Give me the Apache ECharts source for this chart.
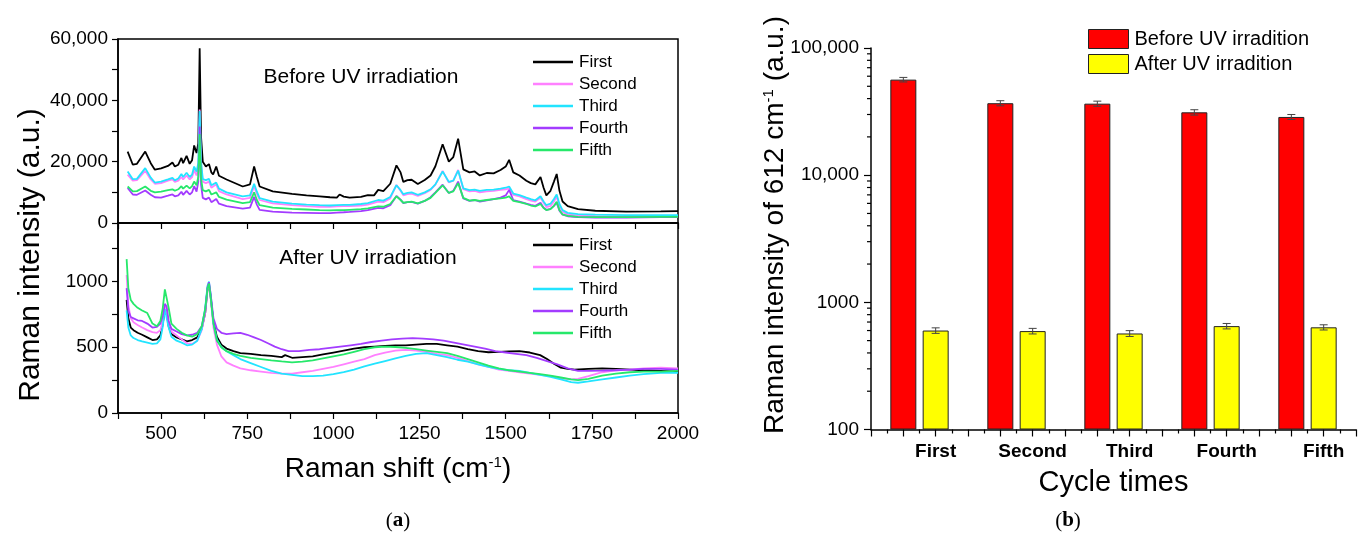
<!DOCTYPE html>
<html>
<head>
<meta charset="utf-8">
<script src="https://cdn.jsdelivr.net/npm/echarts@6/dist/echarts.min.js"></script>
<style>
  html, body { margin: 0; padding: 0; background: #fff; }
  #chart { width: 1359px; height: 540px; }
</style>
</head>
<body>
<div id="chart"></div>
<script>
// ---- (a) Raman spectra, [Raman shift (cm-1), intensity (a.u.)] ----
const spectrumNames = ['First', 'Second', 'Third', 'Fourth', 'Fifth'];

const beforeFirst = [[403,23300],[418,19000],[430,19300],[454,23300],[470,19500],[482,17400],[500,17800],[520,18600],[533,19700],[540,18400],[550,19000],[559,21200],[564,19500],[574,21900],[583,19300],[590,20500],[596,25300],[603,22800],[608,26000],[612,57000],[616,28000],[621,20000],[630,18400],[639,19200],[646,16500],[651,15800],[660,18400],[668,15400],[690,14200],[737,11900],[758,12600],[770,18400],[778,15000],[786,11900],[824,10300],[880,9500],[922,9000],[960,8700],[990,8400],[1010,8300],[1018,9300],[1030,8600],[1047,8300],[1080,8500],[1100,9100],[1118,9000],[1130,10800],[1145,10400],[1165,12800],[1183,18800],[1195,16500],[1203,13400],[1215,14000],[1227,14100],[1245,12700],[1265,14000],[1282,15500],[1296,18500],[1317,25700],[1335,20000],[1348,21500],[1362,27500],[1377,17500],[1395,16500],[1410,16800],[1425,15500],[1445,16300],[1465,16200],[1485,17300],[1500,18400],[1510,20600],[1522,16500],[1540,15500],[1560,13800],[1573,13000],[1586,12600],[1601,15000],[1610,11500],[1618,9000],[1630,10500],[1640,13500],[1648,16000],[1656,10500],[1665,7000],[1680,5500],[1710,4500],[1760,4000],[1850,3700],[1950,3800],[2000,3900]];
const beforeSecond = [[403,15800],[418,13800],[430,14000],[454,17000],[470,14200],[482,12800],[500,13000],[520,13800],[533,14200],[540,13400],[550,13800],[559,15000],[564,14200],[574,15500],[583,14200],[590,15000],[596,17200],[603,15500],[608,18000],[612,37000],[616,19000],[621,13500],[630,13000],[639,13500],[646,11500],[651,11200],[660,12600],[668,10400],[690,9300],[737,7800],[758,8200],[770,12000],[778,9500],[786,7500],[824,6400],[880,5800],[922,5500],[960,5300],[990,5300],[1010,5400],[1030,5500],[1047,5500],[1080,5700],[1100,6000],[1130,7000],[1145,6800],[1165,8000],[1183,12400],[1195,10500],[1203,9000],[1215,9400],[1227,9600],[1245,8800],[1265,9700],[1282,10800],[1296,12500],[1317,17000],[1335,13200],[1348,13800],[1362,17300],[1377,11000],[1395,10300],[1410,10500],[1425,10000],[1445,10300],[1465,10500],[1485,10800],[1500,11000],[1510,11300],[1522,9200],[1540,8700],[1560,7800],[1573,7300],[1586,7000],[1601,8200],[1610,6600],[1618,5200],[1630,5600],[1640,7000],[1648,8600],[1656,5500],[1665,3600],[1680,2800],[1710,2400],[1760,2200],[1850,2100],[1950,2100],[2000,2100]];
const beforeThird = [[403,16800],[418,14300],[430,14400],[454,17900],[470,14800],[482,13200],[500,13500],[520,14200],[533,14700],[540,13900],[550,14500],[559,16000],[564,15000],[574,16400],[583,15000],[590,15800],[596,18400],[603,16800],[608,19500],[612,36500],[616,20000],[621,14300],[630,14000],[639,14400],[646,12300],[651,11900],[660,13200],[668,11200],[690,10000],[737,8700],[758,9000],[770,12800],[778,10200],[786,8100],[824,7000],[880,6300],[922,6000],[960,5800],[990,5700],[1010,5800],[1030,5900],[1047,5900],[1080,6200],[1100,6500],[1130,7500],[1145,7300],[1165,8500],[1183,12300],[1195,10700],[1203,9400],[1215,9800],[1227,10000],[1245,9200],[1265,10000],[1282,11000],[1296,12600],[1317,16800],[1335,13400],[1348,13800],[1362,17100],[1377,11300],[1395,10700],[1410,10900],[1425,10500],[1445,10800],[1465,10900],[1485,11200],[1500,11500],[1510,11900],[1522,9600],[1540,9100],[1560,8300],[1573,7800],[1586,7400],[1601,8700],[1610,7000],[1618,5800],[1630,6300],[1640,7800],[1648,9300],[1656,6200],[1665,4200],[1680,3300],[1710,2900],[1760,2700],[1850,2600],[1950,2600],[2000,2600]];
const beforeFourth = [[403,11400],[418,9300],[430,9200],[454,10600],[470,9200],[482,8400],[500,8300],[520,8900],[533,9300],[540,8700],[550,9000],[559,10200],[564,9200],[574,10500],[583,9300],[590,10000],[596,12000],[603,10200],[608,13500],[612,31500],[616,12500],[621,8200],[630,7700],[639,8300],[646,6800],[651,6600],[660,7800],[668,6300],[690,5500],[737,4700],[758,5000],[770,8500],[778,6000],[786,4300],[824,3700],[880,3400],[922,3300],[960,3200],[990,3200],[1010,3400],[1030,3500],[1047,3600],[1080,3900],[1100,4200],[1130,4900],[1145,4800],[1165,5800],[1183,8800],[1195,7600],[1203,6500],[1215,6800],[1227,6900],[1245,6300],[1265,7200],[1282,8400],[1296,10000],[1317,12500],[1335,9800],[1348,10500],[1362,13500],[1377,8000],[1395,7200],[1410,7500],[1425,7000],[1445,7400],[1465,7800],[1485,8300],[1500,9000],[1510,10800],[1522,7500],[1540,7000],[1560,6300],[1573,5900],[1586,5600],[1601,6600],[1610,5000],[1618,4300],[1630,4600],[1640,5600],[1648,6600],[1656,4000],[1665,2700],[1680,2200],[1710,1900],[1760,1800],[1850,1800],[1950,1900],[2000,1900]];
const beforeFifth = [[403,11900],[418,10300],[430,10400],[454,11900],[470,10500],[482,10000],[500,10200],[520,10700],[533,11000],[540,10500],[550,11000],[559,12000],[564,11200],[574,12200],[583,11300],[590,12000],[596,13500],[603,12300],[608,15000],[612,29000],[616,14500],[621,10700],[630,10300],[639,10800],[646,9300],[651,9000],[660,10000],[668,8500],[690,7600],[737,6500],[758,6800],[770,10000],[778,7500],[786,5800],[824,5000],[880,4600],[922,4400],[960,4200],[990,4100],[1010,4200],[1030,4200],[1047,4300],[1080,4500],[1100,4800],[1130,5400],[1145,5300],[1165,6200],[1183,8700],[1195,7500],[1203,6600],[1215,6800],[1227,7000],[1245,6400],[1265,7200],[1282,8200],[1296,9800],[1317,12300],[1335,9800],[1348,10300],[1362,13000],[1377,8200],[1395,7300],[1410,7500],[1425,7200],[1445,7500],[1465,7800],[1485,8000],[1500,8300],[1510,8700],[1522,7200],[1540,6800],[1560,6200],[1573,5700],[1586,5400],[1601,6200],[1610,4900],[1618,4200],[1630,4500],[1640,5600],[1648,6900],[1656,4200],[1665,2800],[1680,2300],[1710,2000],[1760,1900],[1850,1900],[1950,2000],[2000,2000]];

const afterFirst = [[400,860],[405,720],[412,650],[420,630],[432,610],[445,595],[460,575],[475,555],[488,560],[498,590],[505,680],[511,790],[516,770],[522,660],[530,600],[545,575],[560,560],[575,545],[590,555],[605,575],[618,640],[628,760],[635,950],[639,975],[644,880],[652,690],[662,580],[675,520],[690,490],[710,470],[730,455],[760,450],[790,440],[820,435],[850,425],[860,440],[880,420],[910,425],[940,430],[970,445],[1000,460],[1030,475],[1060,490],[1090,500],[1120,505],[1150,510],[1180,515],[1210,515],[1240,520],[1270,525],[1300,525],[1330,515],[1360,505],[1390,485],[1420,470],[1450,462],[1480,465],[1510,468],[1540,470],[1570,460],[1600,440],[1620,410],[1640,375],[1660,345],[1680,335],[1700,330],[1740,335],[1780,340],[1820,335],[1860,330],[1900,325],[1950,320],[2000,315]];
const afterSecond = [[400,1050],[405,820],[412,720],[420,690],[432,670],[445,650],[460,630],[475,615],[488,610],[498,630],[505,700],[511,810],[516,800],[522,690],[530,620],[545,590],[560,560],[575,530],[590,525],[605,550],[618,630],[628,760],[635,940],[639,990],[644,870],[652,650],[662,520],[675,430],[690,385],[710,360],[730,340],[760,325],[790,315],[820,305],[850,300],[880,300],[910,310],[940,320],[970,335],[1000,350],[1030,370],[1060,390],[1090,410],[1120,440],[1150,460],[1180,475],[1210,480],[1240,475],[1270,465],[1300,450],[1330,440],[1360,420],[1390,395],[1420,370],[1450,350],[1480,330],[1510,320],[1540,310],[1570,300],[1600,290],[1630,280],[1660,265],[1690,255],[1710,260],[1740,280],[1780,310],[1820,325],[1860,330],[1900,340],[1950,345],[2000,340]];
const afterThird = [[400,780],[405,650],[412,590],[420,570],[432,555],[445,545],[460,535],[475,525],[488,530],[498,560],[505,660],[511,790],[516,780],[522,650],[530,580],[545,550],[560,535],[575,515],[590,520],[605,550],[618,640],[628,800],[635,970],[639,1000],[644,900],[652,680],[662,560],[675,500],[690,470],[710,440],[730,410],[760,380],[790,350],[820,320],[850,300],[880,290],[910,280],[940,280],[970,285],[1000,295],[1030,310],[1060,330],[1090,355],[1120,375],[1150,395],[1180,415],[1210,435],[1240,450],[1270,455],[1300,440],[1330,425],[1360,405],[1390,390],[1420,370],[1450,350],[1480,335],[1510,325],[1540,320],[1570,305],[1600,290],[1630,275],[1660,255],[1690,235],[1710,230],[1740,240],[1780,255],[1820,270],[1860,285],[1900,295],[1950,305],[2000,305]];
const afterFourth = [[400,950],[405,780],[412,730],[420,720],[432,705],[445,700],[460,680],[475,650],[488,655],[498,680],[505,740],[511,830],[516,810],[522,700],[530,640],[545,620],[560,600],[575,590],[590,595],[605,610],[618,660],[628,780],[635,960],[639,995],[644,900],[652,720],[662,640],[675,610],[690,600],[710,605],[730,610],[750,595],[770,575],[790,555],[810,530],[830,505],[850,485],[870,470],[900,470],[930,480],[960,485],[990,495],[1020,505],[1050,515],[1080,525],[1110,540],[1140,550],[1170,560],[1200,565],[1230,570],[1260,565],[1290,560],[1320,550],[1350,535],[1380,520],[1410,505],[1440,490],[1470,470],[1500,460],[1530,450],[1560,440],[1590,420],[1620,395],[1650,370],[1680,340],[1710,320],[1740,320],[1780,322],[1820,325],[1860,330],[1900,335],[1950,335],[2000,330]];
const afterFifth = [[400,1170],[405,950],[412,860],[420,830],[432,800],[445,780],[460,760],[475,680],[488,660],[498,700],[505,800],[511,940],[516,950],[522,800],[530,680],[545,640],[560,610],[575,590],[590,580],[605,600],[618,660],[628,790],[635,950],[639,985],[644,880],[652,680],[662,550],[675,500],[690,470],[710,450],[730,435],[760,420],[790,410],[820,400],[850,392],[880,385],[910,390],[940,400],[970,415],[1000,430],[1030,445],[1060,465],[1090,485],[1120,500],[1150,505],[1180,502],[1210,495],[1240,485],[1270,475],[1300,465],[1330,455],[1360,435],[1390,410],[1420,385],[1450,360],[1480,340],[1510,325],[1540,315],[1570,305],[1600,295],[1630,285],[1660,270],[1690,255],[1710,250],[1740,260],[1780,285],[1820,300],[1860,310],[1900,315],[1950,315],[2000,320]];

// ---- (b) intensity of the 612 cm-1 band over the cycles ----
const cycles = ['First', 'Second', 'Third', 'Fourth', 'Fifth'];
const beforeUV = [56400, 36800, 36500, 31200, 28700];
const beforeUVError = [2300, 1700, 1700, 1500, 1300];
const afterUV = [600, 594, 569, 650, 636];
const afterUVError = [30, 30, 30, 32, 30];
const logMinorTickValues = [200, 300, 400, 500, 600, 700, 800, 900,
  2000, 3000, 4000, 5000, 6000, 7000, 8000, 9000,
  20000, 30000, 40000, 50000, 60000, 70000, 80000, 90000];

// ---- styling ----
const FONT = '"Liberation Sans", Arial, sans-serif';
const SERIF = '"Liberation Serif", "DejaVu Serif", serif';
const spectrumColors = ['#000000', '#ff80ff', '#22e4ff', '#a33cff', '#26e86a'];
const beforeSpectra = [beforeFirst, beforeSecond, beforeThird, beforeFourth, beforeFifth];
const afterSpectra = [afterFirst, afterSecond, afterThird, afterFourth, afterFifth];

// bar slots on the cycle axis: each cycle takes 6 units, red at +2, yellow at +4
const SLOT = 6, BEFORE_POS = 2, AFTER_POS = 4;

const axisLineStyle = { color: '#000', width: 1.5 };
const tickLabel = { color: '#000', fontFamily: FONT, fontSize: 19 };

function renderErrorBar(params, api) {
  const x = api.value(0), v = api.value(1), e = api.value(2);
  const hi = api.coord([x, v + e]);
  const lo = api.coord([x, v - e]);
  const cap = 4;
  const style = { stroke: '#444', lineWidth: 1 };
  return {
    type: 'group',
    children: [
      { type: 'line', shape: { x1: hi[0], y1: hi[1], x2: lo[0], y2: lo[1] }, style },
      { type: 'line', shape: { x1: hi[0] - cap, y1: hi[1], x2: hi[0] + cap, y2: hi[1] }, style },
      { type: 'line', shape: { x1: lo[0] - cap, y1: lo[1], x2: lo[0] + cap, y2: lo[1] }, style }
    ]
  };
}

function renderLogMinorTick(params, api) {
  const p = api.coord([api.value(0), api.value(1)]);
  return {
    type: 'line',
    shape: { x1: p[0] - 4, y1: p[1], x2: p[0], y2: p[1] },
    style: { stroke: '#000', lineWidth: 1.2 }
  };
}

const series = [];
spectrumNames.forEach((name, i) => {
  const common = {
    type: 'line', name, showSymbol: false, symbol: 'none', silent: true,
    lineStyle: { color: spectrumColors[i], width: 1.8 },
    itemStyle: { color: spectrumColors[i] }
  };
  series.push(Object.assign({}, common, { xAxisIndex: 0, yAxisIndex: 0, data: beforeSpectra[i] }));
  series.push(Object.assign({}, common, { xAxisIndex: 1, yAxisIndex: 1, data: afterSpectra[i] }));
});

series.push({
  type: 'bar', name: 'Before UV irradition', xAxisIndex: 2, yAxisIndex: 2,
  barWidth: 26, barGap: '-100%',
  itemStyle: { color: '#ff0000', borderColor: '#222', borderWidth: 1 },
  data: cycles.map((c, i) => [i * SLOT + BEFORE_POS, beforeUV[i]])
});
series.push({
  type: 'bar', name: 'After UV irradition', xAxisIndex: 2, yAxisIndex: 2,
  barWidth: 26, barGap: '-100%',
  itemStyle: { color: '#ffff00', borderColor: '#222', borderWidth: 1 },
  data: cycles.map((c, i) => [i * SLOT + AFTER_POS, afterUV[i]])
});
series.push({
  type: 'custom', name: 'errBefore', xAxisIndex: 2, yAxisIndex: 2, z: 5, silent: true,
  renderItem: renderErrorBar, encode: { x: 0, y: 1 },
  data: cycles.map((c, i) => [i * SLOT + BEFORE_POS, beforeUV[i], beforeUVError[i]])
});
series.push({
  type: 'custom', name: 'errAfter', xAxisIndex: 2, yAxisIndex: 2, z: 5, silent: true,
  renderItem: renderErrorBar, encode: { x: 0, y: 1 },
  data: cycles.map((c, i) => [i * SLOT + AFTER_POS, afterUV[i], afterUVError[i]])
});
series.push({
  type: 'custom', name: 'logMinorTicks', xAxisIndex: 2, yAxisIndex: 2, silent: true, clip: false,
  renderItem: renderLogMinorTick, encode: { x: 0, y: 1 },
  data: logMinorTickValues.map(v => [0, v])
});

const spectrumLegend = (top) => ({
  data: spectrumNames.map((name, i) => ({ name, icon: 'rect', itemStyle: { color: spectrumColors[i] } })),
  orient: 'vertical', left: 533, top, padding: 0,
  itemWidth: 40, itemHeight: 2.5, itemGap: 0, selectedMode: false,
  textStyle: { fontFamily: FONT, fontSize: 17, color: '#000', lineHeight: 22, padding: [0, 0, 0, 1] }
});

const supRich = { sup: { fontFamily: FONT, fontSize: 15, verticalAlign: 'top', lineHeight: 28, color: '#000' } };

const option = {
  animation: false,
  backgroundColor: '#fff',
  grid: [
    { left: 118, top: 39, width: 560, height: 184, show: true, borderColor: '#000', borderWidth: 1.5, backgroundColor: 'transparent' },
    { left: 118, top: 223, width: 560, height: 190, show: true, borderColor: '#000', borderWidth: 1.5, backgroundColor: 'transparent' },
    { left: 871, top: 48, width: 489, height: 381.5 }
  ],
  xAxis: [
    {
      gridIndex: 0, type: 'value', min: 375, max: 2000, interval: 125,
      axisLine: { lineStyle: axisLineStyle }, axisTick: { length: 6, lineStyle: { color: '#000', width: 1.2 } },
      axisLabel: { show: false }, splitLine: { show: false }
    },
    {
      gridIndex: 1, type: 'value', min: 375, max: 2000, interval: 125,
      axisLine: { lineStyle: axisLineStyle }, axisTick: { length: 6, lineStyle: { color: '#000', width: 1.2 } },
      axisLabel: Object.assign({ margin: 11, formatter: v => (v % 250 === 0 ? String(v) : '') }, tickLabel),
      splitLine: { show: false },
      name: 'Raman shift (cm{sup|-1})', nameLocation: 'middle', nameGap: 42,
      nameTextStyle: { fontFamily: FONT, fontSize: 28, color: '#000', lineHeight: 28, rich: supRich }
    },
    {
      gridIndex: 2, type: 'value', min: 0, max: 30, interval: 2,
      axisLine: { lineStyle: axisLineStyle },
      axisTick: { length: 7, lineStyle: { color: '#000', width: 1.2 } },
      minorTick: { show: true, splitNumber: 2, length: 4, lineStyle: { color: '#000', width: 1.2 } },
      axisLabel: Object.assign({}, tickLabel, {
        fontWeight: 'bold', margin: 13,
        formatter: v => {
          const i = (v - AFTER_POS) / SLOT;
          return Number.isInteger(i) && cycles[i] ? cycles[i] : '';
        }
      }),
      splitLine: { show: false },
      name: 'Cycle times', nameLocation: 'middle', nameGap: 39,
      nameTextStyle: { fontFamily: FONT, fontSize: 29, color: '#000' }
    }
  ],
  yAxis: [
    {
      gridIndex: 0, type: 'value', min: 0, max: 60000, interval: 10000,
      axisLine: { lineStyle: axisLineStyle }, axisTick: { length: 6, lineStyle: { color: '#000', width: 1.2 } },
      axisLabel: Object.assign({ margin: 10, formatter: v => (v % 20000 === 0 ? v.toLocaleString('en-US') : '') }, tickLabel),
      splitLine: { show: false }
    },
    {
      gridIndex: 1, type: 'value', min: 0, max: 1445, interval: 250,
      axisLine: { lineStyle: axisLineStyle }, axisTick: { length: 6, lineStyle: { color: '#000', width: 1.2 } },
      axisLabel: Object.assign({ margin: 10, showMaxLabel: false, formatter: v => (v % 500 === 0 ? String(v) : '') }, tickLabel),
      splitLine: { show: false }
    },
    {
      gridIndex: 2, type: 'log', logBase: 10, min: 100, max: 100000, startValue: 100,
      axisLine: { lineStyle: axisLineStyle }, axisTick: { length: 7, lineStyle: { color: '#000', width: 1.2 } },
      axisLabel: Object.assign({ margin: 12, formatter: v => { const r = Math.round(v); return r >= 10000 ? r.toLocaleString('en-US') : String(r); } }, tickLabel),
      splitLine: { show: false }
    }
  ],
  legend: [
    spectrumLegend(51),
    spectrumLegend(234),
    {
      data: ['Before UV irradition', 'After UV irradition'], orient: 'vertical', left: 1088, top: 29, padding: 0,
      icon: 'rect', itemWidth: 40, itemHeight: 19, itemGap: 5, selectedMode: false,
      itemStyle: { borderColor: '#222', borderWidth: 1 },
      textStyle: { fontFamily: FONT, fontSize: 20, color: '#000', padding: [0, 0, 0, 1] }
    }
  ],
  graphic: [
    {
      type: 'text', x: 31, y: 255, rotation: Math.PI / 2,
      style: { text: 'Raman intensity (a.u.)', fontFamily: FONT, fontSize: 30, fill: '#000', align: 'center', verticalAlign: 'middle' }
    },
    {
      type: 'text', x: 775, y: 225, rotation: Math.PI / 2,
      style: {
        text: 'Raman intensity of 612 cm{sup|-1} (a.u.)', fontFamily: FONT, fontSize: 28, fill: '#000',
        align: 'center', verticalAlign: 'middle', lineHeight: 28,
        rich: { sup: { fontFamily: FONT, fontSize: 15, verticalAlign: 'top', lineHeight: 28, fill: '#000' } }
      }
    },
    {
      type: 'text', x: 361, y: 77,
      style: { text: 'Before UV irradiation', fontFamily: FONT, fontSize: 21, fill: '#000', align: 'center', verticalAlign: 'middle' }
    },
    {
      type: 'text', x: 368, y: 258,
      style: { text: 'After UV irradiation', fontFamily: FONT, fontSize: 21, fill: '#000', align: 'center', verticalAlign: 'middle' }
    },
    {
      type: 'text', x: 398, y: 521,
      style: {
        text: '({b|a})', fontFamily: SERIF, fontSize: 21, fill: '#000', align: 'center', verticalAlign: 'middle',
        rich: { b: { fontFamily: SERIF, fontSize: 21, fontWeight: 'bold', fill: '#000' } }
      }
    },
    {
      type: 'text', x: 1068, y: 521,
      style: {
        text: '({b|b})', fontFamily: SERIF, fontSize: 21, fill: '#000', align: 'center', verticalAlign: 'middle',
        rich: { b: { fontFamily: SERIF, fontSize: 21, fontWeight: 'bold', fill: '#000' } }
      }
    }
  ],
  series
};

const chart = echarts.init(document.getElementById('chart'), null, { renderer: 'canvas' });
chart.setOption(option);
</script>
</body>
</html>
